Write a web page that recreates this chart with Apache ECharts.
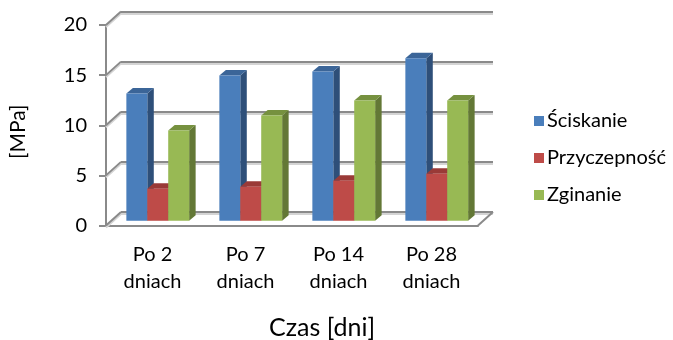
<!DOCTYPE html>
<html>
<head>
<meta charset="utf-8">
<script src="https://cdn.jsdelivr.net/npm/echarts@6/dist/echarts.min.js"></script>
<style>
  html, body { margin: 0; padding: 0; background: #fff; }
  #chart { width: 673px; height: 340px; }
</style>
</head>
<body>
<div id="chart"></div>
<script>
// ---- data ----
const categories = ['Po 2\ndniach', 'Po 7\ndniach', 'Po 14\ndniach', 'Po 28\ndniach'];
const seriesNames = ['Ściskanie', 'Przyczepność', 'Zginanie'];
const sciskanie = [12.7, 14.5, 14.9, 16.2];
const przyczepnosc = [3.2, 3.4, 4.0, 4.7];
const zginanie = [9.0, 10.5, 12.0, 12.0];
const yTicks = [0, 5, 10, 15, 20];

// ---- look ----
const FONT = 'Lato, "Open Sans", sans-serif';
const TEXT = '#000';
const GRID_GREY = '#8a8a8a';
// front plane of the 3D box (axes live here)
const FRONT = { left: 106, top: 25, width: 372, height: 200.5 };
// offset from the front edge of the floor to the back wall, px
const DEPTH = [15, -13.5];
// bars stand at this fraction of the box depth
const BAR_PLANE = 0.35;
// depth of each bar, px
const BAR_DEPTH = [6.5, -5.5];
// width of one bar as a fraction of the category band
const BAR_WIDTH = 0.225;
const palette = [
  { front: '#4A7EBB', side: '#2E4F79', top: '#3B6598' },
  { front: '#BE4B48', side: '#8A3230', top: '#9A3A37' },
  { front: '#98B954', side: '#637836', top: '#76913F' }
];
const seriesValues = [sciskanie, przyczepnosc, zginanie];

function barRenderer(idx) {
  return function (params, api) {
    const cat = api.value(0);
    const val = api.value(1);
    const p0 = api.coord([cat, 0]);
    const p1 = api.coord([cat, val]);
    const band = api.size([1, 0])[0];
    const w = band * BAR_WIDTH;
    const ox = DEPTH[0] * BAR_PLANE, oy = DEPTH[1] * BAR_PLANE;
    const xl = p0[0] - 1.5 * w + idx * w + ox;
    const xr = xl + w;
    const yb = p0[1] + oy;
    const yt = p1[1] + oy;
    const dx = BAR_DEPTH[0], dy = BAR_DEPTH[1];
    const c = palette[idx];
    return {
      type: 'group',
      children: [
        { type: 'polygon', shape: { points: [[xr, yb], [xr + dx, yb + dy], [xr + dx, yt + dy], [xr, yt]] },
          style: { fill: c.side } },
        { type: 'polygon', shape: { points: [[xl, yt], [xr, yt], [xr + dx, yt + dy], [xl + dx, yt + dy]] },
          style: { fill: c.top } },
        { type: 'rect', shape: { x: xl, y: yt, width: w, height: yb - yt },
          style: { fill: c.front } }
      ]
    };
  };
}

// side wall: diagonal lines joining the value axis to the back wall
function sideWallRenderer(params, api) {
  const v = api.value(1);
  const p = api.coord([0, v]);
  const band = api.size([1, 0])[0];
  const x = p[0] - band / 2;
  return {
    type: 'line',
    shape: { x1: x, y1: p[1], x2: x + DEPTH[0], y2: p[1] + DEPTH[1] },
    style: { stroke: GRID_GREY, lineWidth: 2, shadowColor: '#d4d4d4', shadowOffsetY: 2 }
  };
}

// right edge of the floor
function floorEdgeRenderer(params, api) {
  const p = api.coord([api.value(0), 0]);
  const band = api.size([1, 0])[0];
  const x = p[0] + band / 2;
  return {
    type: 'line',
    shape: { x1: x, y1: p[1], x2: x + DEPTH[0], y2: p[1] + DEPTH[1] },
    style: { stroke: GRID_GREY, lineWidth: 2 }
  };
}

const series = seriesNames.map((name, i) => ({
  name: name,
  type: 'custom',
  xAxisIndex: 0,
  yAxisIndex: 0,
  z: 5,
  itemStyle: { color: palette[i].front },
  renderItem: barRenderer(i),
  encode: { x: 0, y: 1 },
  data: seriesValues[i].map((v, k) => [k, v])
}));

series.unshift({
  type: 'custom',
  xAxisIndex: 0,
  yAxisIndex: 0,
  z: 1,
  silent: true,
  renderItem: sideWallRenderer,
  encode: { x: 0, y: 1 },
  data: yTicks.map(v => [0, v])
}, {
  type: 'custom',
  xAxisIndex: 0,
  yAxisIndex: 0,
  z: 1,
  silent: true,
  renderItem: floorEdgeRenderer,
  encode: { x: 0, y: 1 },
  data: [[categories.length - 1, 0]]
});

const chart = echarts.init(document.getElementById('chart'), null, { renderer: 'canvas' });
chart.setOption({
  animation: false,
  backgroundColor: '#fff',
  textStyle: { fontFamily: FONT },
  grid: [
    { left: FRONT.left, top: FRONT.top, width: FRONT.width, height: FRONT.height,
      containLabel: false, outerBoundsMode: 'none' },
    { left: FRONT.left + DEPTH[0], top: FRONT.top + DEPTH[1], width: FRONT.width, height: FRONT.height,
      containLabel: false, outerBoundsMode: 'none' }
  ],
  legend: {
    orient: 'vertical',
    left: 534,
    top: 111,
    icon: 'rect',
    itemWidth: 10,
    itemHeight: 10,
    itemGap: 17,
    itemStyle: { borderWidth: 0 },
    padding: 0,
    selectedMode: false,
    textStyle: { fontFamily: FONT, fontSize: 20, color: TEXT, padding: [0, 0, 0, -2] },
    data: seriesNames
  },
  xAxis: [
    {
      gridIndex: 0,
      type: 'category',
      data: categories,
      axisLine: { lineStyle: { color: GRID_GREY, width: 2 } },
      axisTick: { show: false },
      axisLabel: { fontFamily: FONT, fontSize: 20, color: TEXT, lineHeight: 27, margin: 16 },
      name: 'Czas [dni]',
      nameLocation: 'middle',
      nameGap: 90,
      nameTextStyle: { fontFamily: FONT, fontSize: 25, color: TEXT, padding: [0, 0, 0, 60] }
    },
    {
      gridIndex: 1,
      type: 'category',
      data: categories,
      show: false
    }
  ],
  yAxis: [
    {
      gridIndex: 0,
      type: 'value',
      min: 0,
      max: 20,
      interval: 5,
      axisLine: { show: true, lineStyle: { color: GRID_GREY, width: 2 } },
      axisTick: { show: true, length: 7, lineStyle: { color: GRID_GREY, width: 2 } },
      axisLabel: { fontFamily: FONT, fontSize: 20, color: TEXT, margin: 19, padding: [4, 0, 0, 0] },
      splitLine: { show: false },
      name: '[MPa]',
      nameLocation: 'middle',
      nameRotate: 90,
      nameGap: 77,
      nameTextStyle: { fontFamily: FONT, fontSize: 21, color: TEXT, padding: [0, 13, 0, 0] }
    },
    {
      gridIndex: 1,
      type: 'value',
      min: 0,
      max: 20,
      interval: 5,
      axisLine: { show: false },
      axisTick: { show: false },
      axisLabel: { show: false },
      splitLine: { show: true, lineStyle: { color: GRID_GREY, width: 2, shadowColor: '#d4d4d4', shadowOffsetY: 2 } }
    }
  ],
  series: series
});
</script>
</body>
</html>
